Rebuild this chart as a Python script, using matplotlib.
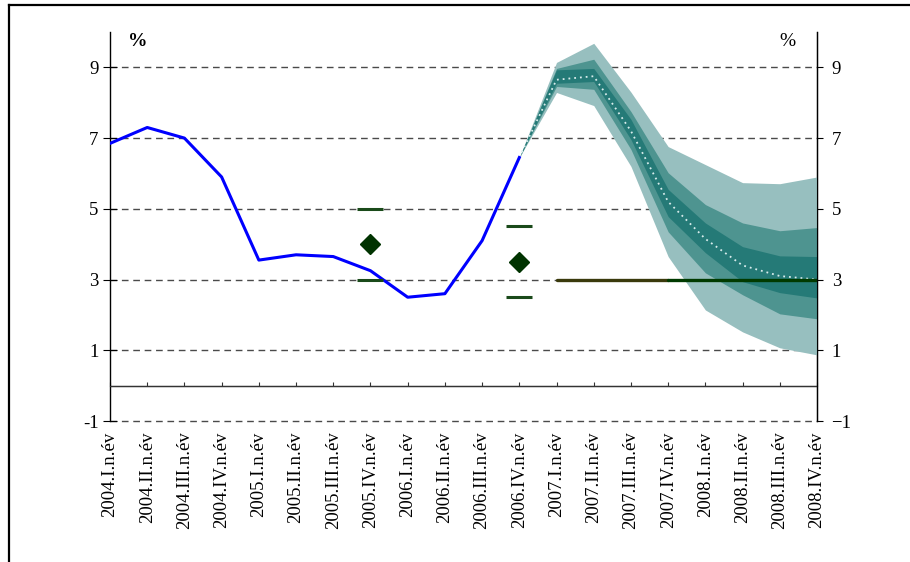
import numpy as np
import matplotlib.pyplot as plt
from matplotlib.lines import Line2D

plt.rcParams['font.family'] = ['Liberation Serif', 'DejaVu Serif']

quarters = []
for year in range(2004, 2009):
    for q in ["I", "II", "III", "IV"]:
        quarters.append(f"{year}.{q}.n.év")

# actual inflation, 2004.I - 2006.IV
actual = [6.85, 7.3, 7.0, 5.9, 3.55, 3.7, 3.65, 3.25, 2.5, 2.6, 4.1, 6.45]

# forecast fan, 2006.IV - 2008.IV
fan_start = 11
median = [6.45, 8.65, 8.75, 7.2, 5.2, 4.15, 3.4, 3.1, 3.0]
inner_hi = [6.45, 8.93, 8.97, 7.53, 5.55, 4.6, 3.93, 3.67, 3.65]
inner_lo = [6.45, 8.55, 8.6, 6.96, 4.78, 3.76, 2.94, 2.63, 2.48]
mid_hi = [6.45, 8.97, 9.23, 7.75, 6.02, 5.12, 4.6, 4.38, 4.47]
mid_lo = [6.45, 8.46, 8.38, 6.68, 4.35, 3.19, 2.57, 2.03, 1.89]
out_hi = [6.45, 9.14, 9.68, 8.3, 6.76, 6.25, 5.74, 5.71, 5.9]
out_lo = [6.45, 8.29, 7.92, 6.2, 3.65, 2.14, 1.52, 1.07, 0.87]

# inflation targets with tolerance band
target_x = [7, 11]
target_mid = [4.0, 3.5]
target_lo = [3.0, 2.5]
target_hi = [5.0, 4.5]

# medium-term target
mt_target = 3.0
mt_first = [12, 15]
mt_second = [15, 19]

fig = plt.figure(figsize=(9.10, 5.62), dpi=100)
ax = fig.add_axes([110 / 910, 1 - 421 / 562, 707 / 910, 389 / 562])

x_all = np.arange(len(quarters))
xf = np.arange(fan_start, fan_start + len(median))

for y in [9, 7, 5, 3, 1, -1]:
    ax.axhline(y, color='#4a4a4a', lw=1.0, linestyle=(0, (4.8, 3.4)),
               zorder=1, clip_on=False)
ax.axhline(0, color='#333333', lw=1.0, zorder=2)

ax.fill_between(xf, out_lo, out_hi, color='#97bfbf', lw=0, zorder=3)
ax.fill_between(xf, mid_lo, mid_hi, color='#4e9490', lw=0, zorder=3)
ax.fill_between(xf, inner_lo, inner_hi, color='#257a77', lw=0, zorder=3)
ax.plot(xf, median, color='#d8ecec', lw=1.3, linestyle=(0, (1, 2.2)), zorder=4)

ax.plot(x_all[:len(actual)], actual, color='#0000ff', lw=2.2, zorder=5)

ax.plot(mt_first, [mt_target] * 2, color='#3a3a0c', lw=2.4,
        solid_capstyle='round', zorder=6)
ax.plot(mt_second, [mt_target] * 2, color='#003a00', lw=2.4,
        solid_capstyle='round', zorder=6)

for xi, m, lo, hi in zip(target_x, target_mid, target_lo, target_hi):
    ax.hlines([lo, hi], xi - 0.35, xi + 0.35, color='#1a4a1a', lw=2.2, zorder=6)
    ax.plot(xi, m, marker='D', ms=10.5, color='#003300', zorder=7, lw=0)

ax.set_xlim(0, 19)
ax.set_ylim(-1, 10)

ax.spines['top'].set_visible(False)
ax.spines['bottom'].set_position(('data', 0))
ax.spines['bottom'].set_color('#333333')
ax.spines['left'].set_linewidth(1.0)
ax.spines['right'].set_linewidth(1.0)

ax.set_xticks(x_all)
ax.set_xticklabels(quarters, rotation=90, ha='center', va='top', fontsize=13.5)
ax.tick_params(axis='x', direction='in', length=3, pad=33, color='#333333')

ax.set_yticks([-1, 1, 3, 5, 7, 9])
ax.set_yticklabels(['-1', '1', '3', '5', '7', '9'])
ax.tick_params(axis='y', labelsize=13.5, direction='inout',
               length=10.5, pad=3)

# right axis ticks point outward only
ax2 = ax.twinx()
ax2.set_ylim(-1, 10)
ax2.set_yticks([-1, 1, 3, 5, 7, 9])
ax2.tick_params(axis='y', direction='out', length=4.5, pad=6, labelsize=13.5)
for s in ['top', 'bottom', 'left']:
    ax2.spines[s].set_visible(False)

fig.text(138 / 910, 1 - 41 / 562, '%', ha='center', va='center',
         fontsize=14, fontweight='bold')
fig.text(787 / 910, 1 - 41 / 562, '%', ha='center', va='center', fontsize=14)

# frame
fig.add_artist(Line2D([8.5 / 910, 1], [1 - 5 / 562, 1 - 5 / 562],
                      transform=fig.transFigure, color='black', lw=1.6))
fig.add_artist(Line2D([8.5 / 910, 8.5 / 910], [0, 1 - 5 / 562],
                      transform=fig.transFigure, color='black', lw=1.6))

fig.savefig('out.png', dpi=100)
